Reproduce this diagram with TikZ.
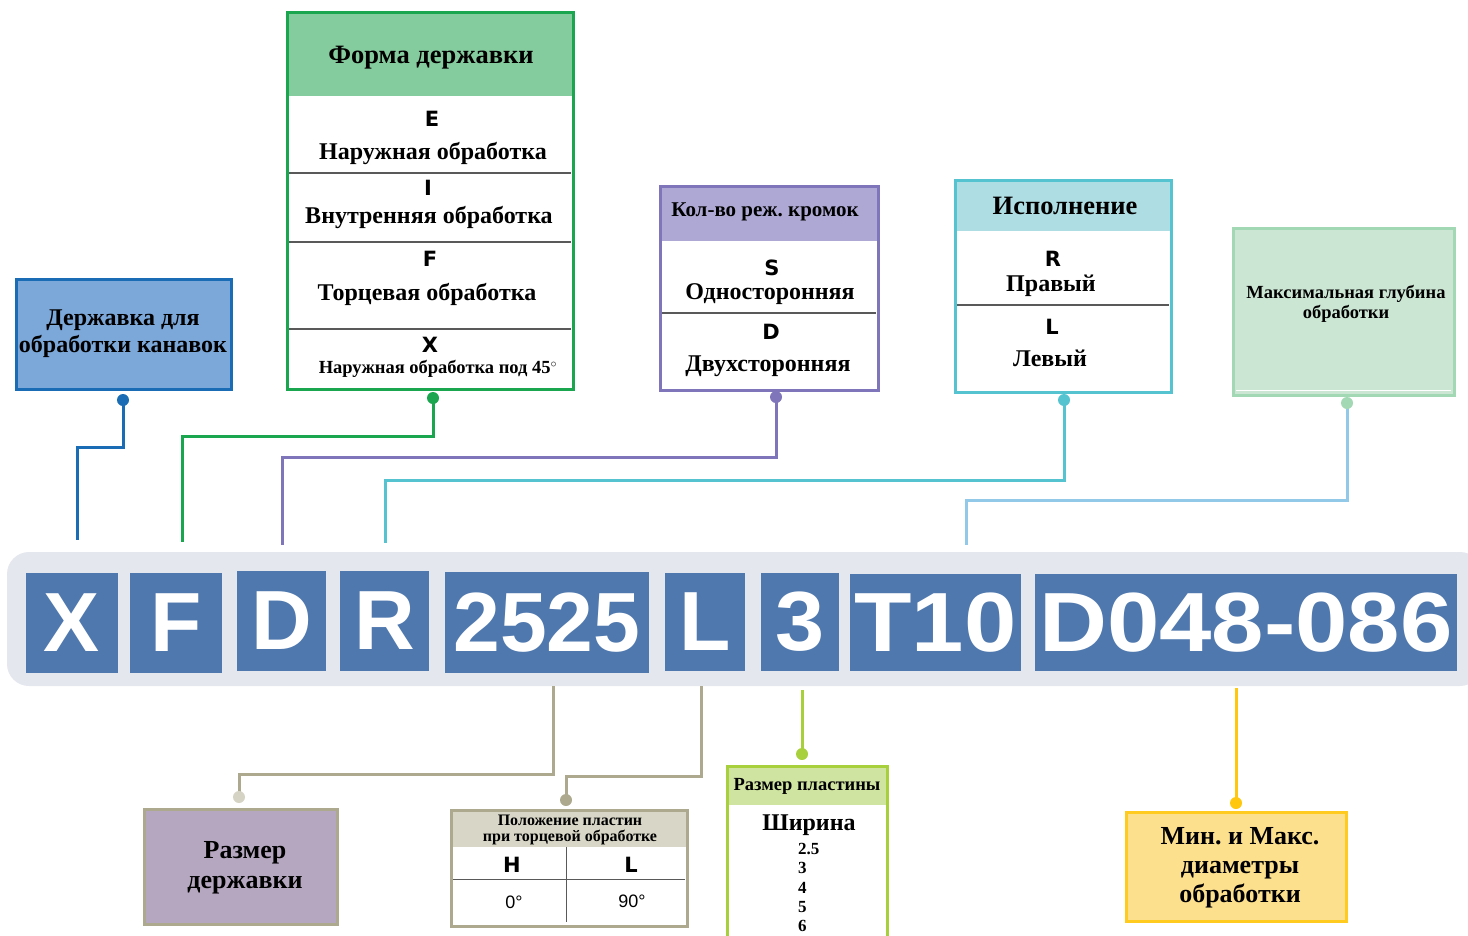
\documentclass[tikz,border=0pt]{standalone}
\usepackage{fontspec}
\setmainfont{Liberation Serif}
\newfontfamily\codefont{Liberation Sans}
\newfontfamily\letfont{DejaVu Sans}
\usetikzlibrary{positioning}
\newcommand\fsz[2]{\fontsize{#1}{#2}\selectfont}
\definecolor{codeblue}{HTML}{4F78AE}
\definecolor{barbg}{HTML}{E4E7ED}
\definecolor{ablue}{HTML}{7BA7D9}
\definecolor{dblue}{HTML}{1A6DB5}
\definecolor{fgreen}{HTML}{1AA64E}
\definecolor{hgreen}{HTML}{84CC9E}
\definecolor{fpurple}{HTML}{7F75BA}
\definecolor{hpurple}{HTML}{AEA8D5}
\definecolor{fcyan}{HTML}{55C4D0}
\definecolor{hcyan}{HTML}{AEDDE3}
\definecolor{lgreen}{HTML}{CCE6D4}
\definecolor{lgborder}{HTML}{A3D8B5}
\definecolor{skyline}{HTML}{92C8E8}
\definecolor{khaki}{HTML}{ADA98F}
\definecolor{khakil}{HTML}{D5D4C4}
\definecolor{khakih}{HTML}{D8D6C6}
\definecolor{mauve}{HTML}{B5A7C0}
\definecolor{lime}{HTML}{A8D03C}
\definecolor{hlime}{HTML}{D0E4A2}
\definecolor{gold}{HTML}{FFC70D}
\definecolor{fyellow}{HTML}{FDE08E}
\definecolor{byellow}{HTML}{FFCB20}

\begin{document}
\frenchspacing
\begin{tikzpicture}[x=1pt, y=-1pt,
  code/.style={fill=codeblue, text=white, font=\codefont\bfseries\fsz{84}{84}, inner sep=0pt},
  frame/.style={draw, line width=3pt, inner sep=0pt},
  head/.style={inner sep=0pt, font=\bfseries\fsz{26}{28}, align=center},
  lab/.style={inner sep=0pt, font=\bfseries\fsz{24}{27}, align=center},
  let/.style={inner sep=0pt, font=\letfont\bfseries\fsz{21}{21}},
  sep/.style={line width=1.5pt, black!65},
  dot/.style={circle, inner sep=0pt, minimum size=12pt},
  wire/.style={line width=3pt}]
\useasboundingbox (0,0) rectangle (1468,935);

% code line
\fill[barbg, rounded corners=22pt] (7,552) rectangle (1482,686);
\node[code, minimum width=92pt, minimum height=100pt] (cX) at (72,623) {X};
\node[code, minimum width=92pt, minimum height=100pt] (cF) at (176,623) {F};
\node[code, minimum width=89pt, minimum height=100pt] (cD) at (281.5,621) {D};
\node[code, minimum width=89pt, minimum height=100pt] (cR) at (384.5,621) {R};
\node[code, minimum width=204pt, minimum height=101pt] (c2525) at (547,622.5) {2525};
\node[code, minimum width=80pt, minimum height=98pt] (cL) at (705,622) {L};
\node[code, minimum width=78pt, minimum height=98pt] (c3) at (800,622) {\scalebox{1.05}[1]{3}};
\node[code, minimum width=171pt, minimum height=97pt] (cT) at (935.5,622.5) {\scalebox{1.12}[1]{T10}};
\node[code, minimum width=422pt, minimum height=97pt] (cDia) at (1246,622.5) {\scalebox{1.12}[1]{D048-086}};

\coordinate (eX) at (77,540);
\coordinate (eF) at (182,542);
\coordinate (eD) at (282,545);
\coordinate (eR) at (385,543);
\coordinate (eT) at (966,545);
\coordinate (s2525) at (553,686);
\coordinate (sL) at (701,686);
\coordinate (s3) at (802,690);
\coordinate (sDia) at (1236,688);

% upper boxes
\node[frame, draw=dblue, fill=ablue, minimum width=215pt, minimum height=110pt] (holder) at (123.5,334) {};
\node[lab] (holderT) at (123,334) {Державка для\\обработки канавок};

\node[frame, draw=fgreen, minimum width=286pt, minimum height=377pt] (form) at (430,200.5) {};
\node[head, fill=hgreen, minimum width=283pt, minimum height=82.5pt] (formH) at (430,54.75) {};
\node[head, font=\bfseries\fsz{26.5}{28}] (formHt) at (431,58) {Форма державки};
\node[let] (fE) at (432,119) {E};
\node[lab] (fEt) at (433,153) {Наружная обработка};
\draw[sep] (289,173) -- (571,173);
\node[let] (fI) at (428,188) {I};
\node[lab] (fIt) at (429,217) {Внутренняя обработка};
\draw[sep] (289,242) -- (571,242);
\node[let] (fF) at (430,259) {F};
\node[lab] (fFt) at (427,294) {Торцевая обработка};
\draw[sep] (289,329) -- (571,329);
\node[let] (fX) at (430,345) {X};
\node[lab, font=\bfseries\fsz{18.5}{20}] (fXt) at (438,369) {Наружная обработка под 45$^{\circ}$};

\node[frame, draw=fpurple, minimum width=218pt, minimum height=204pt] (edge) at (769,288) {};
\node[head, fill=hpurple, minimum width=215pt, minimum height=53.5pt] (edgeH) at (769,214.25) {};
\node[head, font=\bfseries\fsz{21}{23}] (edgeHt) at (765,212) {Кол-во реж. кромок};
\node[let] (eS) at (772,268) {S};
\node[lab] (eSt) at (770,294) {Односторонняя};
\draw[sep] (662,313) -- (876,313);
\node[let] (eDl) at (771,332) {D};
\node[lab] (eDt) at (768,366) {Двухсторонняя};

\node[frame, draw=fcyan, minimum width=216pt, minimum height=212pt] (hand) at (1063,286) {};
\node[head, fill=hcyan, minimum width=213pt, minimum height=49.5pt] (handH) at (1063,206.25) {};
\node[head, font=\bfseries\fsz{26.5}{28}] (handHt) at (1065,206) {Исполнение};
\node[let] (hR) at (1053,259) {R};
\node[lab] (hRt) at (1051,286) {Правый};
\draw[sep] (957,305) -- (1169,305);
\node[let] (hL) at (1052,327) {L};
\node[lab] (hLt) at (1050,358) {Левый};

\node[frame, draw=lgborder, fill=lgreen, minimum width=221pt, minimum height=167pt] (depth) at (1343.5,311.5) {};
\draw[white, line width=1pt] (1236,390) -- (1451,390);
\node[lab, font=\bfseries\fsz{18.5}{20}] (depthT) at (1346,304) {Максимальная глубина\\обработки};

% lower boxes
\node[frame, draw=khaki, fill=mauve, minimum width=193pt, minimum height=115pt] (size) at (240.5,866.5) {};
\node[lab, font=\bfseries\fsz{26}{30}] (sizeT) at (245,868) {Размер\\державки};

\node[frame, draw=khaki, minimum width=236pt, minimum height=116pt] (pos) at (569,868) {};
\node[head, fill=khakih, minimum width=233pt, minimum height=35.5pt] (posH) at (569,829.25) {};
\node[head, font=\bfseries\fsz{16}{16}] (posHt) at (570,830) {Положение пластин\\при торцевой обработке};
\draw[sep, line width=1pt] (453,879) -- (685,879);
\draw[sep, line width=1pt] (566,847) -- (566,922);
\node[let] (pH) at (512,865) {H};
\node[let] (pL) at (631,865) {L};
\node[inner sep=0pt, font=\codefont\fsz{18}{18}] (p0) at (514,902) {0°};
\node[inner sep=0pt, font=\codefont\fsz{18}{18}] (p90) at (632,901) {90°};

\node[frame, draw=lime, minimum width=160pt, minimum height=194pt] (ins) at (807,863) {};
\node[head, fill=hlime, minimum width=157pt, minimum height=37.5pt] (insH) at (807,786.25) {};
\node[head, font=\bfseries\fsz{18.5}{20}] (insHt) at (807,786) {Размер пластины};
\node[lab] (insW) at (809,825) {Ширина};
\node[inner sep=0pt, font=\bfseries\fsz{17}{19.3}, align=left, anchor=north west] (insList) at (798,843) {2.5\\3\\4\\5\\6};

\node[frame, draw=byellow, fill=fyellow, minimum width=220pt, minimum height=109pt] (diam) at (1236,866.5) {};
\node[lab, font=\bfseries\fsz{26}{29}] (diamT) at (1240,868) {Мин. и Макс.\\диаметры\\обработки};

% connectors
\draw[wire, dblue] (123,400) -- ++(0,47) -| (eX);
\draw[wire, fgreen] (433,398) -- ++(0,38) -| (eF);
\draw[wire, fpurple] (776,397) -- ++(0,60) -| (eD);
\draw[wire, fcyan] (1064,400) -- ++(0,80) -| (eR);
\draw[wire, skyline] (1347,403) -- ++(0,97) -| (eT);
\draw[wire, khaki] (s2525) -- ++(0,88) -| (239,797);
\draw[wire, khaki] (sL) -- ++(0,90) -| (566,800);
\draw[wire, lime] (s3) -- (802,754);
\draw[wire, gold] (sDia) -- (1236,803);

\node[dot, fill=dblue] (dHolder) at (123,400) {};
\node[dot, fill=fgreen] (dForm) at (433,398) {};
\node[dot, fill=fpurple] (dEdge) at (776,397) {};
\node[dot, fill=fcyan] (dHand) at (1064,400) {};
\node[dot, fill=lgborder] (dDepth) at (1347,403) {};
\node[dot, fill=khakil] (dSize) at (239,797) {};
\node[dot, fill=khaki] (dPos) at (566,800) {};
\node[dot, fill=lime] (dIns) at (802,754) {};
\node[dot, fill=gold] (dDiam) at (1236,803) {};
\end{tikzpicture}
\end{document}
